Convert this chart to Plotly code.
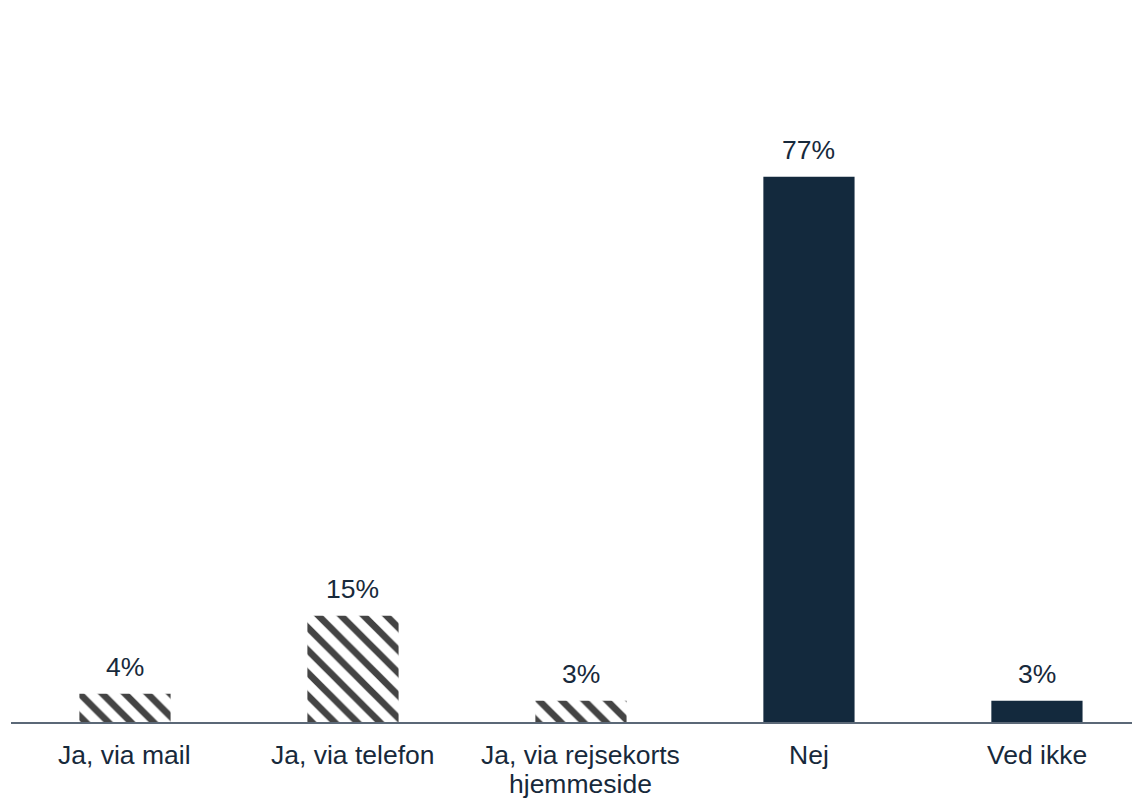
import plotly.graph_objects as go

categories = ["Ja, via mail", "Ja, via telefon", "Ja, via rejsekorts\nhjemmeside", "Nej", "Ved ikke"]
values = [4, 15, 3, 77, 3]
labels = ["4%", "15%", "3%", "77%", "3%"]
hatched = [True, True, True, False, False]

NAVY = "#13293d"
TEXT = "#17293b"
FS = 26.5

fig = go.Figure()
fig.add_trace(go.Bar(
    x=categories,
    y=values,
    width=0.4,
    marker=dict(
        color=["white" if h else NAVY for h in hatched],
        line=dict(width=0),
        pattern=dict(
            shape=["\\" if h else "" for h in hatched],
            fgcolor="#000000",
            fgopacity=1,
            bgcolor=["white" if h else NAVY for h in hatched],
            size=16,
            solidity=0.42,
        ),
    ),
    hoverinfo="skip",
))

# value labels
for c, v, t in zip(categories, values, labels):
    fig.add_annotation(x=c, y=v, text=t, showarrow=False, yanchor="bottom",
                       yshift=10, font=dict(size=FS, color=TEXT))

# category labels (tighter line spacing than plotly's default multi-line)
for c in categories:
    for i, line in enumerate(c.split("\n")):
        fig.add_annotation(x=c, y=0, text=line, showarrow=False, yanchor="top",
                           yshift=-16 - 29 * i, font=dict(size=FS, color=TEXT))

fig.update_layout(
    width=1132, height=791,
    margin=dict(l=3, r=0, t=6, b=77),
    paper_bgcolor="white", plot_bgcolor="white",
    font=dict(family="Liberation Sans, Arial, sans-serif", size=FS, color=TEXT),
    showlegend=False,
    xaxis=dict(
        range=[-0.5, 4.452],
        showline=True, linecolor="#5b6877", linewidth=2,
        showticklabels=False, ticks="",
        showgrid=False, zeroline=False,
    ),
    yaxis=dict(range=[0, 100], visible=False, showgrid=False, zeroline=False),
)

fig.write_html("out.html")
